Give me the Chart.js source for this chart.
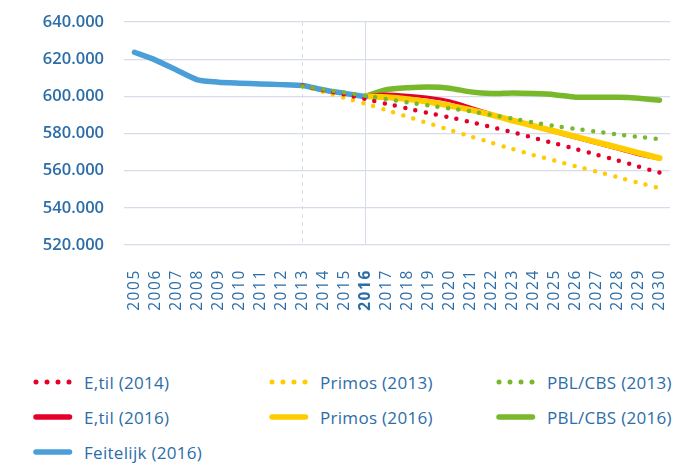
<!DOCTYPE html>
<html>
<head>
<meta charset="utf-8">
<script src="https://cdn.jsdelivr.net/npm/chart.js@4"></script>
<style>
  html,body{margin:0;padding:0;background:#fff;width:700px;height:465px;overflow:hidden;}
  #wrap{position:absolute;left:0;top:0;width:700px;height:340px;}
  .leg{position:absolute;font-family:"Open Sans",sans-serif;font-size:17px;letter-spacing:0.3px;color:#2c6da8;display:flex;align-items:center;white-space:nowrap;}
  .leg svg{margin-right:11px;}
</style>
</head>
<body>
<div id="wrap"><canvas id="c"></canvas></div>
<div id="legend"></div>
<script>
const years = ['2005','2006','2007','2008','2009','2010','2011','2012','2013','2014','2015','2016','2017','2018','2019','2020','2021','2022','2023','2024','2025','2026','2027','2028','2029','2030'];
const yTicks = [520000,540000,560000,580000,600000,620000,640000];

// Feitelijk (2016): 2005-2016
const feitelijk2016 = [623700,619500,614200,608900,607600,607100,606700,606300,605800,603400,601600,599800];
// E,til (2014): 2013-2030
const etil2014 = [605800,603200,601000,598500,596000,593500,591000,588700,586200,583500,580700,577700,574700,571700,568600,565500,562200,559000];
// E,til (2016): 2016-2030
const etil2016 = [600500,601200,600600,599500,597600,594200,590600,587100,583700,580600,577600,574600,571600,568600,566200];
// Primos (2013): 2013-2030
const primos2013 = [605600,602400,599200,596000,592500,589000,585500,582000,578500,575000,571600,568400,565400,562400,559500,556500,553500,550600];
// Primos (2016): 2016-2030
const primos2016 = [600000,599500,598500,597000,595000,592700,590000,587000,584100,581200,578300,575400,572500,569600,566700];
// PBL/CBS (2013): 2013-2030
const pblcbs2013 = [605400,603700,602000,600300,598500,596800,595100,593500,592000,590000,588000,586000,584100,582500,581000,579500,578200,577000];
// PBL/CBS (2016): 2016-2030
const pblcbs2016 = [600000,603600,604600,605000,604400,602400,601500,601800,601500,600900,599500,599500,599500,599000,597900];

const C = {blue:'#4a9fd8', red:'#e4002b', yellow:'#ffcc00', green:'#78b82a', text:'#2c6da8', grid:'#d7dcea'};

function pad(arr, startYear){
  const out = new Array(years.length).fill(null);
  const s = years.indexOf(String(startYear));
  arr.forEach((v,i)=>{ out[s+i]=v; });
  return out;
}
const dotted = {borderDash:[0,10.5], borderCapStyle:'round', borderWidth:4.5};
const solid = {borderCapStyle:'round', borderJoinStyle:'round'};

const datasets = [
  Object.assign({label:'PBL/CBS (2013)', data:pad(pblcbs2013,2013), borderColor:C.green}, dotted),
  Object.assign({label:'E,til (2014)', data:pad(etil2014,2013), borderColor:C.red}, dotted),
  Object.assign({label:'Primos (2013)', data:pad(primos2013,2013), borderColor:C.yellow}, dotted),
  Object.assign({label:'Feitelijk (2016)', data:pad(feitelijk2016,2005), borderColor:C.blue, borderWidth:5.5}, solid),
  Object.assign({label:'Primos (2016)', data:pad(primos2016,2016), borderColor:C.yellow, borderWidth:6}, solid),
  Object.assign({label:'E,til (2016)', data:pad(etil2016,2016), borderColor:C.red, borderWidth:3}, solid),
  Object.assign({label:'PBL/CBS (2016)', data:pad(pblcbs2016,2016), borderColor:C.green, borderWidth:5.5}, solid),
];
datasets.forEach(d=>{ d.pointRadius=0; d.pointHoverRadius=0; d.tension=0.2; d.fill=false; d.spanGaps=false; });

const spacedLabels = {
  id:'spacedLabels',
  afterLayout(chart){
    const s = chart.scales.x;
    if (s && !s._spacedWrap){
      const orig = s.drawLabels.bind(s);
      s.drawLabels = (area)=>{ const ctx=chart.ctx; ctx.save(); ctx.letterSpacing='1.6px'; orig(area); ctx.restore(); };
      s._spacedWrap = true;
    }
  }
};

new Chart(document.getElementById('c'), {
  type:'line',
  data:{labels:years, datasets},
  options:{
    responsive:true, maintainAspectRatio:false, animation:false,
    layout:{padding:{top:22,right:30,left:0,bottom:0}},
    plugins:{legend:{display:false}, tooltip:{enabled:false}},
    scales:{
      x:{
        offset:true,
        grid:{offset:false, drawTicks:false, lineWidth:1,
          color:(ctx)=> (ctx.index===8||ctx.index===11)? C.grid : 'rgba(0,0,0,0)'},
        border:{display:false, dash:(ctx)=> ctx.index===8 ? [4,4] : []},
        ticks:{minRotation:90, maxRotation:90, padding:24, color:C.text, autoSkip:false,
          font:(ctx)=> ({family:'"Open Sans", sans-serif', size:15.5, weight: (ctx.tick && ctx.tick.label==='2016') ? 'bold':'normal'})},
        afterFit(s){ s.height = 95; s.paddingLeft = 0; s.paddingRight = 0; s.paddingTop = 0; s.paddingBottom = 0; }
      },
      y:{
        min:520000, max:640000,
        afterBuildTicks(s){ s.ticks = yTicks.map(v=>({value:v})); },
        grid:{color:C.grid, drawTicks:false, lineWidth:1.2},
        border:{display:false},
        ticks:{padding:20, color:C.text,
          font:{family:'"Open Sans", sans-serif', size:16.5, weight:'600'},
          callback:(v)=> (v/1000).toFixed(0)+'.000'},
        afterFit(s){ s.width = 124; s.paddingTop = 0; s.paddingBottom = 0; s.paddingLeft = 0; s.paddingRight = 0; }
      }
    }
  },
  plugins:[spacedLabels]
});

// HTML legend
const legendItems = [
  {label:'E,til (2014)', color:C.red, dot:true, x:32, y:382},
  {label:'Primos (2013)', color:C.yellow, dot:true, x:268, y:382},
  {label:'PBL/CBS (2013)', color:C.green, dot:true, x:495, y:382},
  {label:'E,til (2016)', color:C.red, dot:false, x:32, y:417},
  {label:'Primos (2016)', color:C.yellow, dot:false, x:268, y:417},
  {label:'PBL/CBS (2016)', color:C.green, dot:false, x:495, y:417},
  {label:'Feitelijk (2016)', color:C.blue, dot:false, x:32, y:452},
];
const leg = document.getElementById('legend');
legendItems.forEach(it=>{
  const d = document.createElement('div');
  d.className='leg';
  d.style.left = it.x+'px';
  d.style.top = (it.y-13)+'px';
  d.style.height='26px';
  const dash = it.dot ? 'stroke-dasharray="0 11"' : '';
  const w = it.dot ? 5 : 5.5;
  d.innerHTML = `<svg width="41" height="10"><line x1="4" y1="5" x2="37.5" y2="5" stroke="${it.color}" stroke-width="${w}" stroke-linecap="round" ${dash}/></svg><span>${it.label}</span>`;
  leg.appendChild(d);
});
</script>
</body>
</html>
